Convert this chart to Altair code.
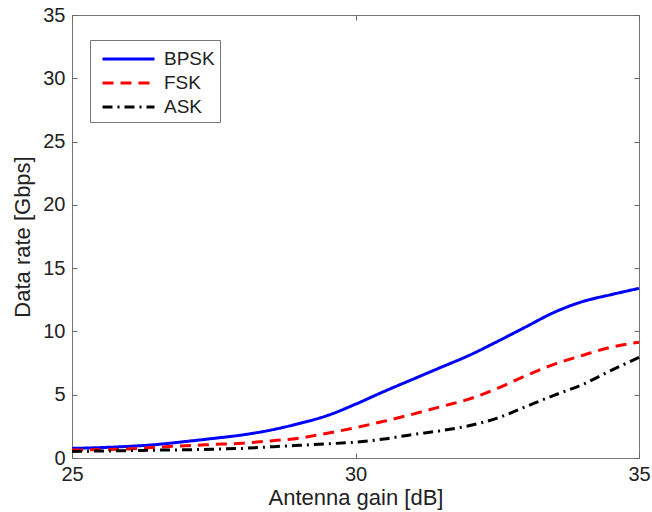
import altair as alt
import pandas as pd

gain = [25.0, 25.5, 26.0, 26.5, 27.0, 27.5, 28.0, 28.5, 29.0, 29.5, 30.0,
        30.5, 31.0, 31.5, 32.0, 32.5, 33.0, 33.5, 34.0, 34.5, 35.0]
bpsk = [0.76, 0.82, 0.92, 1.07, 1.30, 1.55, 1.82, 2.20, 2.72, 3.35, 4.25,
        5.25, 6.20, 7.15, 8.10, 9.20, 10.35, 11.50, 12.35, 12.90, 13.40]
fsk = [0.63, 0.66, 0.72, 0.85, 0.97, 1.07, 1.17, 1.35, 1.57, 1.95, 2.40,
       2.90, 3.45, 4.05, 4.65, 5.50, 6.50, 7.40, 8.10, 8.75, 9.15]
ask = [0.52, 0.55, 0.58, 0.62, 0.65, 0.70, 0.76, 0.88, 1.00, 1.12, 1.25,
       1.50, 1.85, 2.15, 2.55, 3.15, 4.05, 4.95, 5.80, 6.90, 7.95]

series = ["BPSK", "FSK", "ASK"]
colors = ["#0000ff", "#ff0000", "#000000"]
dashes = [[1, 0], [11, 7], [10, 5, 2, 5]]
x_ticks = [25, 30, 35]
y_ticks = [0, 5, 10, 15, 20, 25, 30, 35]

rows = []
for name, vals in zip(series, [bpsk, fsk, ask]):
    for g, v in zip(gain, vals):
        rows.append({"gain": g, "rate": v, "scheme": name})
df = pd.DataFrame(rows)

FONT = "Liberation Sans"
xscale = alt.Scale(domain=[25, 35], nice=False, zero=False)
yscale = alt.Scale(domain=[0, 35], nice=False)

common_axis = dict(offset=-5, tickSize=5, tickColor="#666666", domain=False,
                   grid=False, labelFont=FONT, labelFontSize=20, labelColor="#222222",
                   titleFont=FONT, titleFontSize=22, titleFontWeight="normal",
                   titleColor="#222222", labelFlush=False, labelOverlap=False)

lines = alt.Chart(df).mark_line(strokeWidth=3, interpolate="monotone").encode(
    x=alt.X("gain:Q", scale=xscale,
            axis=alt.Axis(title="Antenna gain [dB]", values=x_ticks, orient="bottom",
                          labelPadding=6, titlePadding=3, **common_axis)),
    y=alt.Y("rate:Q", scale=yscale,
            axis=alt.Axis(title="Data rate [Gbps]", values=y_ticks, orient="left",
                          labelPadding=7, titlePadding=8, **common_axis)),
    color=alt.Color("scheme:N", scale=alt.Scale(domain=series, range=colors),
                    legend=alt.Legend(title=None)),
    strokeDash=alt.StrokeDash("scheme:N", scale=alt.Scale(domain=series, range=dashes),
                              legend=alt.Legend(title=None)),
)

mirror = alt.Chart(df).mark_point(opacity=0).encode(
    x=alt.X("gain:Q", scale=xscale,
            axis=alt.Axis(title=None, values=x_ticks, orient="top", labels=False,
                          **common_axis)),
    y=alt.Y("rate:Q", scale=yscale,
            axis=alt.Axis(title=None, values=y_ticks, orient="right", labels=False,
                          **common_axis)),
)

chart = alt.layer(lines, mirror).resolve_axis(x="independent", y="independent").properties(
    width=567, height=443,
    autosize=alt.AutoSizeParams(type="none"),
    padding={"left": 72, "top": 15, "right": 13, "bottom": 54},
    background="white",
).configure_view(
    stroke="#777777", strokeWidth=1
).configure_legend(
    orient="none", legendX=18, legendY=25,
    fillColor="white", strokeColor="#777777", padding=5,
    symbolType="M-2.08,0L2.08,0", symbolSize=625, symbolStrokeWidth=3,
    symbolOffset=19.5,
    labelFont=FONT, labelFontSize=19, labelColor="#222222",
    labelOffset=21.5, rowPadding=0, cornerRadius=0,
)

chart.save("out.html", embed_options={"renderer": "svg", "actions": False})
